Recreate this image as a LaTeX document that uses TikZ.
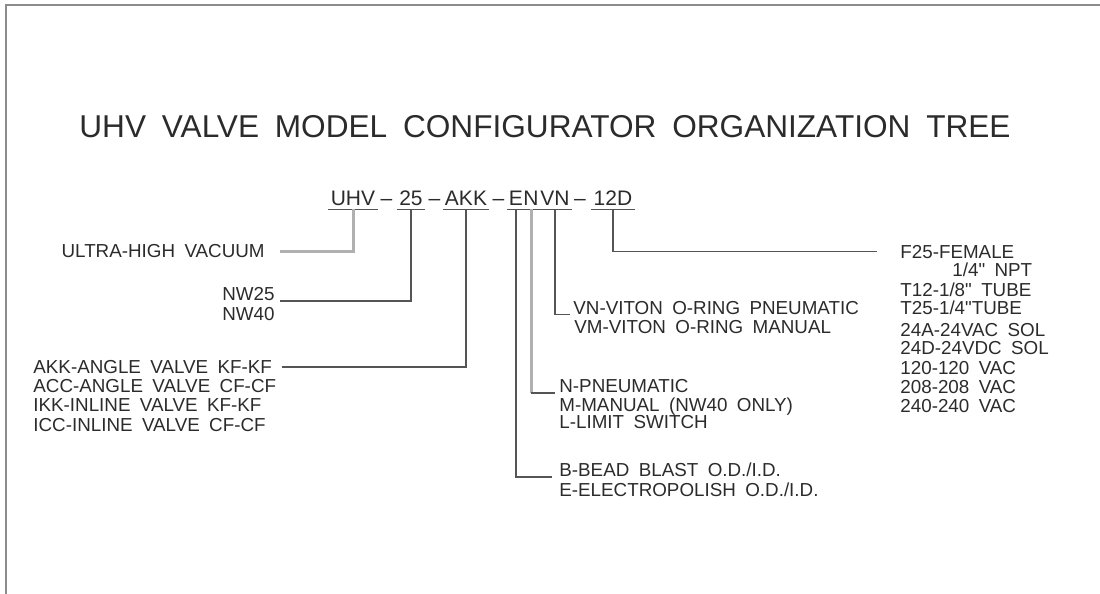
\documentclass[tikz,border=0pt]{standalone}
\usepackage{fontspec}
\usepackage{xcolor}
\usepackage{tikz}
\usetikzlibrary{positioning}

\newfontfamily\cadfont{Liberation Sans}[WordSpace=2.4]
\newfontfamily\titlefont{Liberation Sans}[WordSpace=1.8]

\definecolor{ink}{HTML}{2B2B2B}
\definecolor{wirec}{HTML}{555555}
\definecolor{pale}{HTML}{B0B0B0}
\definecolor{framec}{HTML}{8C8C8C}

\begin{document}
\begin{tikzpicture}[
    x=0.5pt,
    y=-0.5pt,
    every node/.style={text=ink},
    title/.style={
        font=\titlefont\fontsize{15.8}{18}\selectfont,
        inner sep=0pt
    },
    code/.style={
        font=\cadfont\fontsize{10.5}{12}\selectfont,
        inner xsep=1pt,
        inner ysep=2pt,
        text height=7.5pt,
        text depth=0pt
    },
    opt/.style={
        font=\cadfont\fontsize{9.4}{11}\selectfont,
        inner sep=0pt,
        text height=6.75pt,
        text depth=0pt
    },
    wire/.style={
        draw=wirec,
        line width=0.75pt
    },
    palewire/.style={
        draw=pale,
        line width=1.5pt
    },
    frame/.style={
        draw=framec,
        line width=1pt
    }
]
    \useasboundingbox (0,0) rectangle (1100,594);

    % Sheet border
    \draw [frame] (6,594) -- (6,5) -- (1100,5);

    % Title
    \node [title] (title) at (545,126.5) {UHV VALVE MODEL CONFIGURATOR ORGANIZATION TREE};

    % Model code
    \node [code] (cUHV) at (353,197.5) {UHV};
    \node [code] (d1) at (386.5,197.5) {–};
    \node [code] (c25) at (411,197.5) {25};
    \node [code] (d2) at (434.5,197.5) {–};
    \node [code] (cAKK) at (466,197.5) {AKK};
    \node [code] (d3) at (498.5,197.5) {–};
    \node [code] (cE) at (516,197.5) {E};
    \node [code] (cN) at (531,197.5) {N};
    \node [code] (cVN) at (555,197.5) {VN};
    \node [code] (d4) at (580,197.5) {–};
    \node [code] (c12D) at (613,197.5) {12D};

    \draw [wire] (cUHV.south west) -- (cUHV.south east);
    \draw [wire] (c25.south west) -- (c25.south east);
    \draw [wire] (cAKK.south west) -- (cAKK.south east);
    \draw [wire] (cE.south west) -- (cE.south east);
    \draw [wire] (cN.south west) -- (cN.south east);
    \draw [wire] (cVN.south west) -- (cVN.south east);
    \draw [wire] (c12D.south west) -- (c12D.south east);

    % Left side options
    \node [opt, anchor=east] (uhv) at (265,251) {ULTRA-HIGH VACUUM};
    \node [opt, anchor=east] (nw25) at (275,294) {NW25};
    \node [opt, anchor=east] (nw40) at (275,314) {NW40};
    \node [opt, anchor=west] (akk) at (33,367) {AKK-ANGLE VALVE KF-KF};
    \node [opt, anchor=west] (acc) at (33,386) {ACC-ANGLE VALVE CF-CF};
    \node [opt, anchor=west] (ikk) at (33,405) {IKK-INLINE VALVE KF-KF};
    \node [opt, anchor=west] (icc) at (33,425) {ICC-INLINE VALVE CF-CF};

    % Middle options
    \node [opt, anchor=west] (vn) at (573,307.5) {VN-VITON O-RING PNEUMATIC};
    \node [opt, anchor=west] (vm) at (574,327) {VM-VITON O-RING MANUAL};
    \node [opt, anchor=west] (pn) at (559,386) {N-PNEUMATIC};
    \node [opt, anchor=west] (man) at (559,405) {M-MANUAL (NW40 ONLY)};
    \node [opt, anchor=west] (lim) at (559,422) {L-LIMIT SWITCH};
    \node [opt, anchor=west] (bead) at (559,470) {B-BEAD BLAST O.D./I.D.};
    \node [opt, anchor=west] (elec) at (559,490) {E-ELECTROPOLISH O.D./I.D.};

    % Right side options
    \node [opt, anchor=west] (f25) at (900,251.5) {F25-FEMALE};
    \node [opt, anchor=west] (npt) at (952,270) {1/4" NPT};
    \node [opt, anchor=west] (t12) at (900,290) {T12-1/8" TUBE};
    \node [opt, anchor=west] (t25) at (900,308) {T25-1/4"TUBE};
    \node [opt, anchor=west] (v24a) at (900,330) {24A-24VAC SOL};
    \node [opt, anchor=west] (v24d) at (900,348) {24D-24VDC SOL};
    \node [opt, anchor=west] (v120) at (900,368) {120-120 VAC};
    \node [opt, anchor=west] (v208) at (900,387) {208-208 VAC};
    \node [opt, anchor=west] (v240) at (900,406) {240-240 VAC};

    % Leaders
    \draw [palewire] (cUHV.south) |- ([xshift=7.5pt]uhv.east);
    \draw [wire] (c25.south) |- ([xshift=2.5pt]nw25.south east);
    \draw [wire] (cAKK.south) |- ([xshift=5pt]akk.east);
    \draw [wire] (cE.south) |- ([xshift=-3.5pt]bead.south west);
    \draw [palewire] (cN.south) -- (cN.south |- pn.south west);
    \draw [wire] (cN.south |- pn.south west) -- ([xshift=-2pt]pn.south west);
    \draw [wire] (cVN.south) |- ([xshift=-1.5pt]vn.south west);
    \draw [wire] (c12D.south) |- ([xshift=-11.5pt]f25.west);

\end{tikzpicture}
\end{document}
